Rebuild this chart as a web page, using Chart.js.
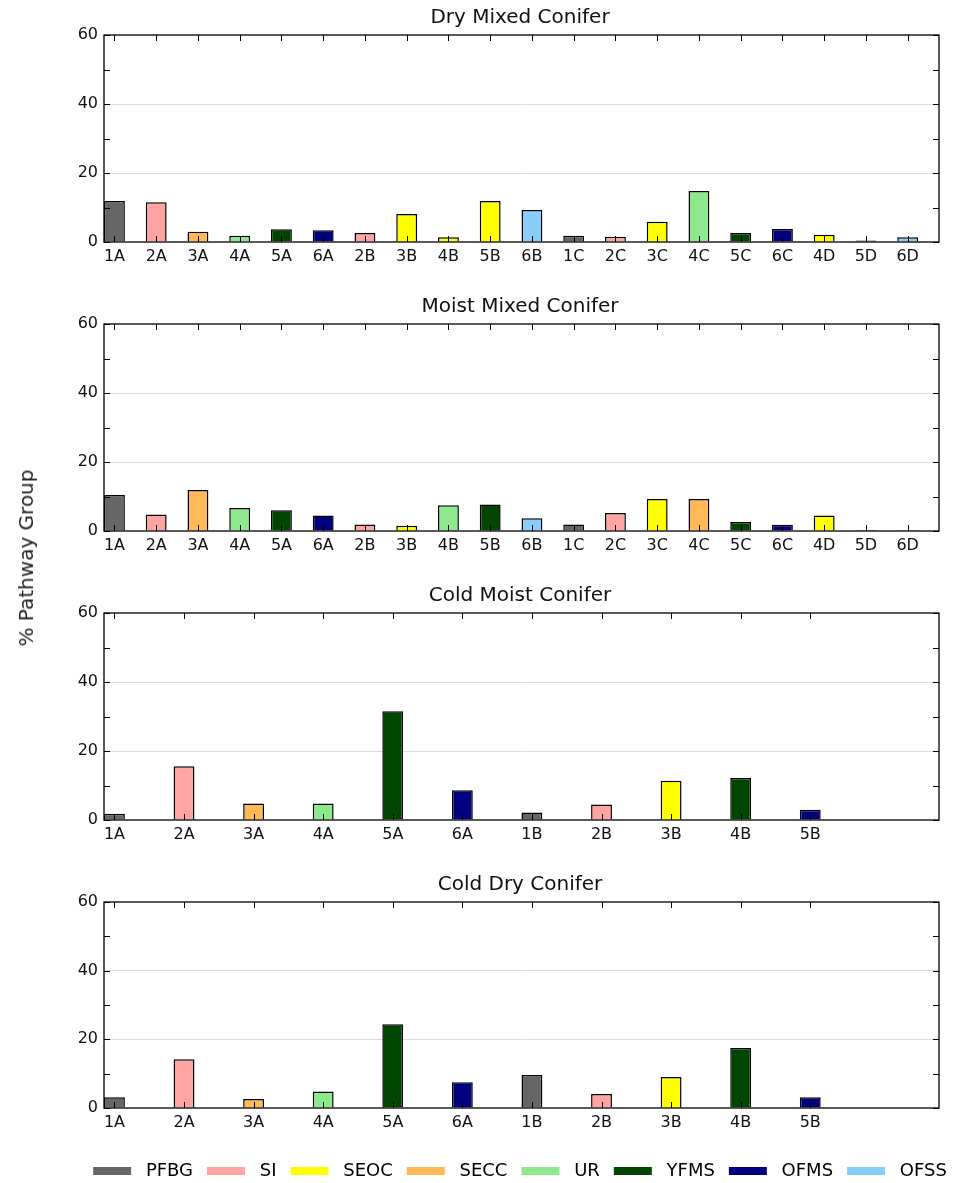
<!DOCTYPE html>
<html>
<head>
<meta charset="utf-8">
<script src="https://cdn.jsdelivr.net/npm/chart.js@4/dist/chart.umd.min.js"></script>
<style>
body { margin: 0; background: #fff; width: 965px; height: 1183px; position: relative; overflow: hidden; font-family: "DejaVu Sans"; }
.panel { position: absolute; left: 0; width: 965px; }
#ylab { position: absolute; left: 26px; top: 558px; transform: translate(-50%, -50%) rotate(-90deg); font-size: 20px; color: #222; white-space: nowrap; }
</style>
</head>
<body>
<div class="panel" style="top:0px;height:289px"><canvas id="c1"></canvas></div>
<div class="panel" style="top:289px;height:289px"><canvas id="c2"></canvas></div>
<div class="panel" style="top:578px;height:289px"><canvas id="c3"></canvas></div>
<div class="panel" style="top:867px;height:323px"><canvas id="c4"></canvas></div>
<div id="ylab">% Pathway Group</div>
<script>
// pathway groups and their colours
var groupNames = ['PFBG', 'SI', 'SEOC', 'SECC', 'UR', 'YFMS', 'OFMS', 'OFSS'];
var groupColors = ['#666666', '#ffa3a3', '#ffff00', '#ffb957', '#8ee88e', '#004500', '#000080', '#87cefa'];

// categories
var mixedLabels = ['1A', '2A', '3A', '4A', '5A', '6A', '2B', '3B', '4B', '5B', '6B', '1C', '2C', '3C', '4C', '5C', '6C', '4D', '5D', '6D'];
var coldLabels = ['1A', '2A', '3A', '4A', '5A', '6A', '1B', '2B', '3B', '4B', '5B'];

// values (% of pathway group) and group of each bar
var dryMixedValues = [11.9, 11.5, 3.0, 1.8, 3.7, 3.4, 2.6, 8.1, 1.4, 11.9, 9.3, 1.8, 1.5, 5.9, 14.8, 2.6, 3.8, 2.1, 0.4, 1.4];
var dryMixedGroups = ['PFBG', 'SI', 'SECC', 'UR', 'YFMS', 'OFMS', 'SI', 'SEOC', 'SEOC', 'SEOC', 'OFSS', 'PFBG', 'SI', 'SEOC', 'UR', 'YFMS', 'OFMS', 'SEOC', 'YFMS', 'OFSS'];

var moistMixedValues = [10.4, 4.8, 11.9, 6.7, 6.0, 4.5, 1.9, 1.5, 7.5, 7.7, 3.7, 1.9, 5.2, 9.3, 9.3, 2.6, 1.8, 4.5, 0.3, 0.3];
var moistMixedGroups = ['PFBG', 'SI', 'SECC', 'UR', 'YFMS', 'OFMS', 'SI', 'SEOC', 'UR', 'YFMS', 'OFSS', 'PFBG', 'SI', 'SEOC', 'SECC', 'YFMS', 'OFMS', 'SEOC', 'YFMS', 'OFSS'];

var coldMoistValues = [1.8, 15.6, 4.8, 4.8, 31.5, 8.6, 2.2, 4.5, 11.4, 12.2, 3.0];
var coldMoistGroups = ['PFBG', 'SI', 'SECC', 'UR', 'YFMS', 'OFMS', 'PFBG', 'SI', 'SEOC', 'YFMS', 'OFMS'];

var coldDryValues = [3.1, 14.2, 2.6, 4.8, 24.4, 7.5, 9.6, 4.1, 9.0, 17.5, 3.1];
var coldDryGroups = ['PFBG', 'SI', 'SECC', 'UR', 'YFMS', 'OFMS', 'PFBG', 'SI', 'SEOC', 'YFMS', 'OFMS'];

var yMax = 60;
var yLabelledTicks = [0, 20, 40, 60];
var yGridTicks = [20, 40];

// box round the plot with inward ticks, like the matplotlib original
var framePlugin = {
  id: 'frame',
  afterDatasetsDraw: function(chart) {
    var a = chart.chartArea, ctx = chart.ctx;
    var xs = chart.scales.x, ys = chart.scales.y;
    ctx.save();
    ctx.strokeStyle = '#000';
    ctx.lineWidth = 1;
    ctx.beginPath();
    xs.ticks.forEach(function(t) {
      var px = Math.round(xs.getPixelForValue(t.value)) + 0.5;
      ctx.moveTo(px, a.bottom); ctx.lineTo(px, a.bottom - 6);
      ctx.moveTo(px, a.top); ctx.lineTo(px, a.top + 6);
    });
    ys.ticks.forEach(function(t) {
      var py = Math.round(ys.getPixelForValue(t.value)) + 0.5;
      ctx.moveTo(a.left, py); ctx.lineTo(a.left + 6, py);
      ctx.moveTo(a.right, py); ctx.lineTo(a.right - 6, py);
    });
    ctx.stroke();
    ctx.lineWidth = 1.3;
    ctx.strokeRect(a.left, a.top, a.right - a.left, a.bottom - a.top);
    ctx.restore();
  }
};

function makeChart(id, title, labels, values, groups, xMax, barFrac, last) {
  var colors = groups.map(function(g) { return groupColors[groupNames.indexOf(g)]; });
  var points = labels.map(function(l, i) { return { x: i + barFrac / 2, y: values[i] }; });
  new Chart(document.getElementById(id), {
    type: 'bar',
    data: {
      datasets: [{
        data: points,
        backgroundColor: colors,
        borderColor: '#000',
        borderWidth: 1.5,
        barPercentage: barFrac,
        categoryPercentage: 1
      }]
    },
    options: {
      responsive: true,
      maintainAspectRatio: false,
      animation: false,
      layout: { padding: { left: 75, right: 0, top: 0, bottom: last ? 0 : 17 } },
      plugins: {
        title: {
          display: true,
          text: title,
          color: '#111',
          font: { family: 'DejaVu Sans', size: 20, weight: 'normal' },
          padding: { top: 6, bottom: 5 }
        },
        legend: {
          display: last,
          position: 'bottom',
          labels: {
            boxWidth: 38,
            boxHeight: 8,
            padding: 14,
            color: '#222',
            font: { family: 'DejaVu Sans', size: 18 },
            generateLabels: function() {
              return groupNames.map(function(n, i) {
                return { text: ' ' + n, fillStyle: groupColors[i], strokeStyle: groupColors[i], lineWidth: 0, hidden: false, datasetIndex: 0 };
              });
            }
          },
          onClick: function() {}
        },
        tooltip: { enabled: false }
      },
      scales: {
        x: {
          type: 'linear',
          offset: false,
          min: 0,
          max: xMax,
          afterBuildTicks: function(s) {
            s.ticks = labels.map(function(l, i) { return { value: i + barFrac / 2 }; });
          },
          afterFit: function(s) { s.height = last ? 40 : 30; },
          ticks: {
            autoSkip: false,
            maxRotation: 0,
            padding: 5,
            color: '#111',
            font: { family: 'DejaVu Sans', size: 16 },
            callback: function(v, i) { return labels[i]; }
          },
          grid: { display: false, drawTicks: false, offset: false },
          border: { display: false }
        },
        y: {
          min: 0,
          max: yMax,
          afterFit: function(s) { s.width = 29; },
          ticks: {
            stepSize: 10,
            padding: 6,
            color: '#111',
            font: { family: 'DejaVu Sans', size: 16 },
            callback: function(v) { return yLabelledTicks.indexOf(v) >= 0 ? v : ''; }
          },
          grid: {
            drawTicks: false,
            color: function(c) { return yGridTicks.indexOf(c.tick.value) >= 0 ? '#dcdcdc' : 'rgba(0,0,0,0)'; }
          },
          border: { display: false }
        },
        yRight: {
          position: 'right',
          afterFit: function(s) { s.width = 26; },
          ticks: { display: false },
          grid: { display: false, drawTicks: false },
          border: { display: false }
        }
      }
    },
    plugins: [framePlugin]
  });
}

makeChart('c1', 'Dry Mixed Conifer', mixedLabels, dryMixedValues, dryMixedGroups, 20, 0.5, false);
makeChart('c2', 'Moist Mixed Conifer', mixedLabels, moistMixedValues, moistMixedGroups, 20, 0.5, false);
makeChart('c3', 'Cold Moist Conifer', coldLabels, coldMoistValues, coldMoistGroups, 12, 0.3, false);
makeChart('c4', 'Cold Dry Conifer', coldLabels, coldDryValues, coldDryGroups, 12, 0.3, true);
</script>
</body>
</html>
